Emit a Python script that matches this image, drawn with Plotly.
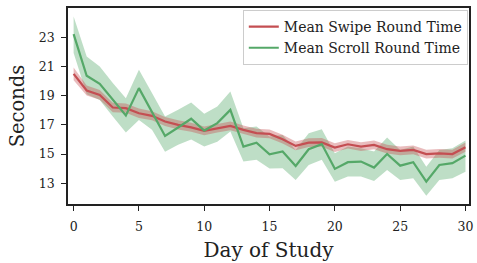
import plotly.graph_objects as go

days = list(range(31))

swipe_mean = [20.5, 19.36, 19.06, 18.19, 18.15, 17.8, 17.62, 17.23, 17.0, 16.83,
              16.59, 16.77, 16.93, 16.66, 16.43, 16.38, 16.02, 15.56, 15.78, 15.8,
              15.44, 15.67, 15.51, 15.63, 15.33, 15.21, 15.28, 15.0, 15.05, 15.0, 15.47]
swipe_err = [0.43, 0.35, 0.33, 0.32, 0.32, 0.32, 0.31, 0.31, 0.31, 0.31,
             0.3, 0.3, 0.3, 0.3, 0.3, 0.3, 0.3, 0.3, 0.3, 0.3,
             0.3, 0.3, 0.3, 0.3, 0.3, 0.3, 0.3, 0.3, 0.3, 0.3, 0.32]

scroll_mean = [23.23, 20.37, 19.82, 18.7, 17.64, 19.52, 17.91, 16.24, 16.82, 17.42,
               16.61, 17.12, 18.03, 15.51, 15.78, 14.98, 15.17, 14.18, 15.33, 15.68,
               13.98, 14.44, 14.48, 14.07, 15.0, 14.2, 14.44, 13.1, 14.25, 14.37, 14.89]
scroll_upper = [24.44, 21.7, 21.0, 19.87, 18.83, 20.78, 19.18, 17.57, 18.03, 18.53,
                17.76, 18.26, 19.29, 16.77, 16.88, 16.2, 16.31, 15.28, 16.43, 16.7,
                15.05, 15.51, 15.4, 15.17, 16.13, 15.28, 15.51, 14.13, 15.28, 15.4, 15.92]
scroll_lower = [21.93, 19.1, 18.7, 17.57, 16.47, 17.34, 16.66, 15.16, 15.63, 16.0,
                15.51, 15.85, 16.54, 14.48, 14.6, 14.0, 14.02, 13.22, 14.25, 14.6,
                13.1, 13.45, 13.45, 13.15, 13.91, 13.22, 13.34, 12.14, 13.22, 13.34, 13.79]

x_ticks = [0, 5, 10, 15, 20, 25, 30]
y_ticks = [13, 15, 17, 19, 21, 23]

RED = "#c44e52"
GREEN = "#55a868"

swipe_upper = [m + e for m, e in zip(swipe_mean, swipe_err)]
swipe_lower = [m - e for m, e in zip(swipe_mean, swipe_err)]

fig = go.Figure()

# Bands
fig.add_trace(go.Scatter(x=days + days[::-1], y=scroll_upper + scroll_lower[::-1],
                         fill="toself", fillcolor="rgba(85,168,104,0.38)",
                         line=dict(width=0), hoverinfo="skip", showlegend=False))
fig.add_trace(go.Scatter(x=days + days[::-1], y=swipe_upper + swipe_lower[::-1],
                         fill="toself", fillcolor="rgba(196,78,82,0.38)",
                         line=dict(width=0), hoverinfo="skip", showlegend=False))

fig.add_trace(go.Scatter(x=days, y=swipe_mean, mode="lines", name="Mean Swipe Round Time",
                         line=dict(color=RED, width=2.2)))
fig.add_trace(go.Scatter(x=days, y=scroll_mean, mode="lines", name="Mean Scroll Round Time",
                         line=dict(color=GREEN, width=2.2)))

font_family = "DejaVu Serif"

fig.update_layout(
    width=477, height=263,
    margin=dict(l=68, r=4, t=8, b=59),
    plot_bgcolor="white", paper_bgcolor="white",
    font=dict(family=font_family, color="#222222", size=12),
    legend=dict(x=0.997, y=0.99, xanchor="right", yanchor="top",
                bgcolor="rgba(255,255,255,0.85)", bordercolor="#cccccc", borderwidth=1,
                font=dict(family=font_family, size=14, color="#222222"),
                tracegroupgap=0, itemwidth=30),
    showlegend=True,
)

fig.update_xaxes(
    range=[-0.43, 30.27], tickvals=x_ticks, ticktext=[str(t) for t in x_ticks],
    showgrid=False, zeroline=False, showline=True, linecolor="#222222", linewidth=1.5,
    mirror=True, ticks="outside", ticklen=5, tickwidth=1.3, tickcolor="#222222",
    tickfont=dict(family=font_family, size=12.5), ticklabelstandoff=5,
    title=dict(text="Day of Study", font=dict(family=font_family, size=20), standoff=10),
)
fig.update_yaxes(
    range=[11.57, 25.02], tickvals=y_ticks, ticktext=[str(t) for t in y_ticks],
    showgrid=False, zeroline=False, showline=True, linecolor="#222222", linewidth=1.5,
    mirror=True, ticks="outside", ticklen=5, tickwidth=1.3, tickcolor="#222222",
    tickfont=dict(family=font_family, size=12.5), ticklabelstandoff=4,
    title=dict(text="Seconds", font=dict(family=font_family, size=19.5), standoff=9),
)

fig.write_html("out.html", config={"displayModeBar": False},
               post_script="document.body.style.margin='0';document.body.style.overflow='hidden';")
